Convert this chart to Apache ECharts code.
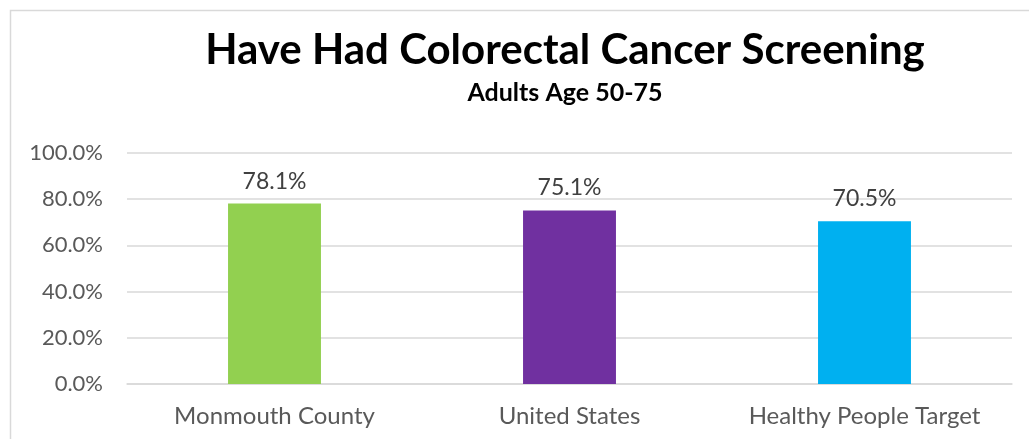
<!DOCTYPE html>
<html><head><meta charset="utf-8">
<script src="https://cdn.jsdelivr.net/npm/echarts@6/dist/echarts.min.js"></script>
<style>html,body{margin:0;padding:0;background:#fff}#c{width:1029px;height:439px}</style>
</head><body><div id="c"></div>
<script>
const categories = ["Monmouth County", "United States", "Healthy People Target"];
const values = [78.1, 75.1, 70.5];
const colors = ["#92D050", "#7030A0", "#00B0F0"];
const yTicks = [0, 20, 40, 60, 80, 100];
const titleText = "Have Had Colorectal Cancer Screening";
const subtitleText = "Adults Age 50-75";

const chart = echarts.init(document.getElementById('c'), null, {renderer: 'canvas'});
const font = "Lato, 'Noto Sans', sans-serif";
chart.setOption({
  animation: false,
  graphic: [{
    type: 'rect', left: 8, top: 8,
    shape: {width: 1040, height: 460},
    style: {fill: 'none', stroke: '#d9d9d9', lineWidth: 1.5}, silent: true
  }],
  title: [{
    text: titleText, left: 560, top: 24, textAlign: 'center',
    textStyle: {fontFamily: font, fontWeight: 'bold', fontSize: 42, color: '#000'}
  }, {
    text: subtitleText, left: 560, top: 75, textAlign: 'center',
    textStyle: {fontFamily: font, fontWeight: 'bold', fontSize: 25, color: '#000'}
  }],
  grid: {left: 127, right: 17, top: 153, bottom: 55, containLabel: false},
  xAxis: {
    type: 'category', data: categories,
    axisLine: {lineStyle: {color: '#d9d9d9', width: 1.5}},
    axisTick: {show: false},
    axisLabel: {interval: 0, hideOverlap: false, fontFamily: font, fontSize: 24, color: '#595959', margin: 20}
  },
  yAxis: {
    type: 'value', min: yTicks[0], max: yTicks[yTicks.length - 1], interval: 20,
    axisLine: {show: false}, axisTick: {show: false},
    splitLine: {lineStyle: {color: '#d9d9d9', width: 1.5}},
    axisLabel: {fontFamily: font, fontSize: 22, color: '#595959', margin: 24,
      formatter: v => v.toFixed(1) + '%'}
  },
  series: [{
    type: 'bar', barWidth: '31.5%',
    data: values.map((v, i) => ({value: v, itemStyle: {color: colors[i]}})),
    label: {show: true, position: 'top', distance: 11, fontFamily: font, fontSize: 23, color: '#404040',
      formatter: p => p.value.toFixed(1) + '%'}
  }]
});
</script></body></html>
